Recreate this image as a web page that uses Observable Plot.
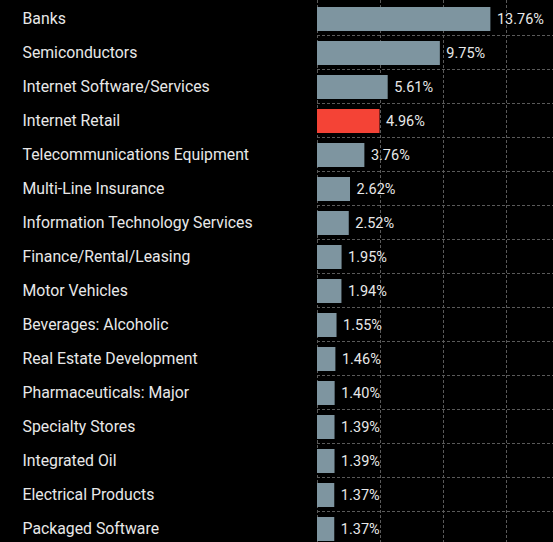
<!DOCTYPE html>
<html>
<head>
<meta charset="utf-8">
<script src="https://cdn.jsdelivr.net/npm/d3@7"></script>
<script src="https://cdn.jsdelivr.net/npm/@observablehq/plot@0.6"></script>
<style>
  html, body { margin: 0; padding: 0; background: #000; overflow: hidden; }
  #chart svg { display: block; }
</style>
</head>
<body>
<div id="chart"></div>
<script>
const categories = [
  "Banks", "Semiconductors", "Internet Software/Services", "Internet Retail",
  "Telecommunications Equipment", "Multi-Line Insurance", "Information Technology Services",
  "Finance/Rental/Leasing", "Motor Vehicles", "Beverages: Alcoholic",
  "Real Estate Development", "Pharmaceuticals: Major", "Specialty Stores",
  "Integrated Oil", "Electrical Products", "Packaged Software"
];
const values = [13.76, 9.75, 5.61, 4.96, 3.76, 2.62, 2.52, 1.95, 1.94, 1.55, 1.46, 1.40, 1.39, 1.39, 1.37, 1.37];
const highlighted = ["Internet Retail"];
const gridTicks = [0, 5, 10, 15];

const data = categories.map((c, i) => ({category: c, value: values[i]}));

const W = 553, H = 542, ML = 317;
const chart = Plot.plot({
  width: W,
  height: H,
  marginLeft: ML,
  marginRight: 0,
  marginTop: 0,
  marginBottom: 0,
  style: {background: "#000", fontFamily: "Roboto, sans-serif", overflow: "hidden"},
  x: {domain: [0, 18.73], axis: null},
  y: {domain: categories, range: [1, 545], padding: 0, axis: null},
  marks: [
    Plot.gridX(gridTicks, {stroke: "#5a5a5a", strokeOpacity: 1, strokeDasharray: "3,2", strokeWidth: 1}),
    Plot.gridY(categories.slice(1), {dy: -17, stroke: "#5a5a5a", strokeOpacity: 1, strokeDasharray: "3,2", strokeWidth: 1}),
    Plot.barX(data, {
      x: "value", y: "category",
      fill: d => highlighted.includes(d.category) ? "#f44336" : "#7e95a0",
      insetTop: 6, insetBottom: 4
    }),
    Plot.text(data, {
      x: "value", y: "category", text: d => d.value.toFixed(2) + "%",
      textAnchor: "start", dx: 6, dy: 1, fill: "#e8e8e8", fontSize: 14.5
    }),
    Plot.text(data, {
      y: "category", text: "category", frameAnchor: "left",
      textAnchor: "start", dx: 22 - ML, dy: 0, fill: "#e8e8e8", fontSize: 15.8
    })
  ]
});
document.getElementById("chart").append(chart);
</script>
</body>
</html>
